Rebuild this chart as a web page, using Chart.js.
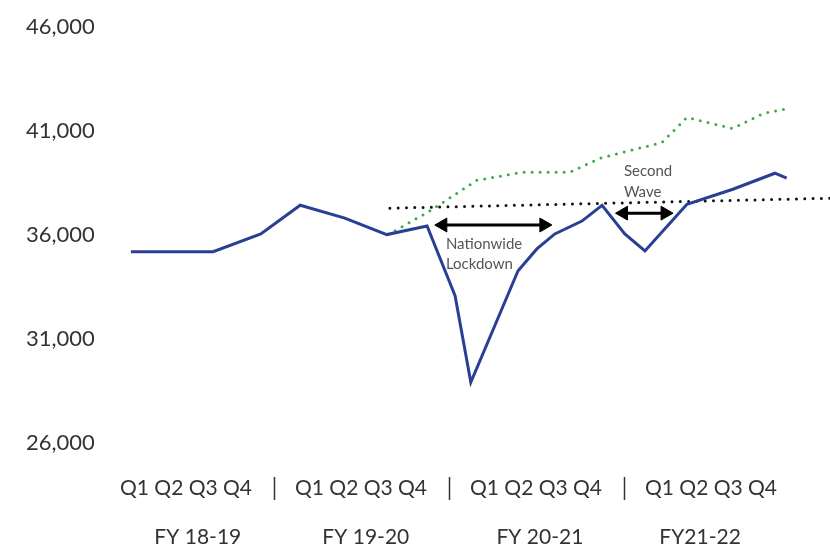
<!DOCTYPE html>
<html>
<head>
<meta charset="utf-8">
<script src="https://cdn.jsdelivr.net/npm/chart.js@4.4.0/dist/chart.umd.min.js"></script>
<style>
    html, body { margin: 0; padding: 0; background: #fff; }
    canvas { display: block; }
</style>
</head>
<body>
<canvas id="grafico" width="830" height="545"></canvas>
<script>
// x = position in quarters from start of FY 18-19
const salesQ = [0.74, 2.62, 3.71, 4.61, 5.63, 6.59, 7.51, 8.15, 8.51, 9.59, 10.02, 10.43, 11.05, 11.51, 12.03, 12.49, 13.45, 14.50, 15.46, 15.73];
const salesVals = [35200, 35200, 36050, 37430, 36810, 36020, 36430, 33080, 28920, 34280, 35330, 36050, 36670, 37430, 36050, 35230, 37480, 38200, 38970, 38730];

const trendQ = [6.62, 7.53, 8.65, 9.70, 10.78, 11.46, 12.88, 13.45, 14.50, 15.19, 15.76];
const trendVals = [36020, 37100, 38630, 39020, 39020, 39690, 40450, 41650, 41120, 41840, 42080];

const preCovidQ = [6.66, 16.72];
const preCovidVals = [37290, 37770];

const lockdownQ = [7.87, 10.18];
const lockdownVals = [36480, 36480];
const secondWaveQ = [12.0, 12.95];
const secondWaveVals = [37050, 37050];

const yTicks = [26000, 31000, 36000, 41000, 46000];
const quarterLabels = ['Q1 Q2 Q3 Q4', 'Q1 Q2 Q3 Q4', 'Q1 Q2 Q3 Q4', 'Q1 Q2 Q3 Q4'];
const quarterPos = [2, 6, 10, 14];
const fyLabels = ['FY 18-19', 'FY 19-20', 'FY 20-21', 'FY21-22'];
const fyPos = [2.27, 6.11, 10.09, 13.75];
const separatorPos = [4, 8, 12];

const notes = [
    { lines: ['Nationwide', 'Lockdown'], q: 7.94, val: 35570 },
    { lines: ['Second', 'Wave'], q: 12.01, val: 39060 }
];

const punti = (xs, ys) => xs.map((x, i) => ({ x: x, y: ys[i] }));

const decorazioni = {
    id: 'decorazioni',
    afterDatasetsDraw(chart) {
        const ctx = chart.ctx;
        const sx = chart.scales.x;
        const sy = chart.scales.y;
        const bottom = chart.chartArea.bottom;
        ctx.save();
        ctx.strokeStyle = '#333';
        ctx.lineWidth = 1.5;
        separatorPos.forEach(q => {
            const px = Math.round(sx.getPixelForValue(q)) + 0.5;
            ctx.beginPath();
            ctx.moveTo(px, bottom + 34);
            ctx.lineTo(px, bottom + 57);
            ctx.stroke();
        });
        ctx.fillStyle = '#555';
        ctx.font = '15px Lato';
        ctx.textAlign = 'left';
        ctx.textBaseline = 'middle';
        notes.forEach(n => {
            const px = sx.getPixelForValue(n.q);
            const py = sy.getPixelForValue(n.val);
            n.lines.forEach((t, i) => ctx.fillText(t, px, py + i * 20.5));
        });
        ctx.restore();
    }
};

const assiX = (pos, labels, padding, height, weight) => ({
    type: 'linear',
    axis: 'x',
    position: 'bottom',
    min: 0,
    max: 16.72,
    weight: weight,
    grid: { display: false, drawTicks: false },
    border: { display: false },
    afterBuildTicks: s => { s.ticks = pos.map(v => ({ value: v })); },
    afterFit: s => { s.height = height; },
    ticks: {
        padding: padding,
        autoSkip: false,
        maxRotation: 0,
        color: '#333',
        font: { family: 'Lato', size: 21 },
        callback: (v, i) => labels[i]
    }
});

new Chart(document.getElementById('grafico'), {
    type: 'line',
    data: {
        datasets: [
            {
                label: 'Vendite',
                data: punti(salesQ, salesVals),
                borderColor: '#2a3f93',
                borderWidth: 3,
                pointRadius: 0,
                tension: 0
            },
            {
                label: 'Trend',
                data: punti(trendQ, trendVals),
                borderColor: '#3dab4a',
                borderWidth: 3,
                borderDash: [0, 8],
                borderCapStyle: 'round',
                pointRadius: 0,
                tension: 0
            },
            {
                label: 'Pre-Covid',
                data: punti(preCovidQ, preCovidVals),
                borderColor: '#111',
                borderWidth: 3,
                borderDash: [0, 8.3],
                borderCapStyle: 'round',
                pointRadius: 0,
                tension: 0
            },
            {
                label: 'Lockdown',
                data: punti(lockdownQ, lockdownVals),
                borderColor: '#000',
                borderWidth: 3,
                pointStyle: 'triangle',
                pointRadius: 8,
                pointRotation: [-90, 90],
                pointBackgroundColor: '#000',
                pointBorderColor: '#000',
                pointBorderWidth: 1
            },
            {
                label: 'Seconda ondata',
                data: punti(secondWaveQ, secondWaveVals),
                borderColor: '#000',
                borderWidth: 3,
                pointStyle: 'triangle',
                pointRadius: 8,
                pointRotation: [-90, 90],
                pointBackgroundColor: '#000',
                pointBorderColor: '#000',
                pointBorderWidth: 1
            }
        ]
    },
    options: {
        responsive: false,
        animation: false,
        layout: { autoPadding: false, padding: { left: 26, top: 27, right: 0, bottom: 0 } },
        plugins: {
            legend: { display: false },
            tooltip: { enabled: false }
        },
        scales: {
            x: assiX(quarterPos, quarterLabels, 33, 60, 0),
            x2: assiX(fyPos, fyLabels, 22, 42, 1),
            y: {
                min: 26000,
                max: 46000,
                grid: { display: false, drawTicks: false },
                border: { display: false },
                afterBuildTicks: s => { s.ticks = yTicks.map(v => ({ value: v })); },
                afterFit: s => { s.width = 72.5; },
                ticks: {
                    padding: 0,
                    crossAlign: 'far',
                    color: '#333',
                    font: { family: 'Lato', size: 22 },
                    callback: v => v.toLocaleString('en-US')
                }
            }
        }
    },
    plugins: [decorazioni]
});
</script>
</body>
</html>
